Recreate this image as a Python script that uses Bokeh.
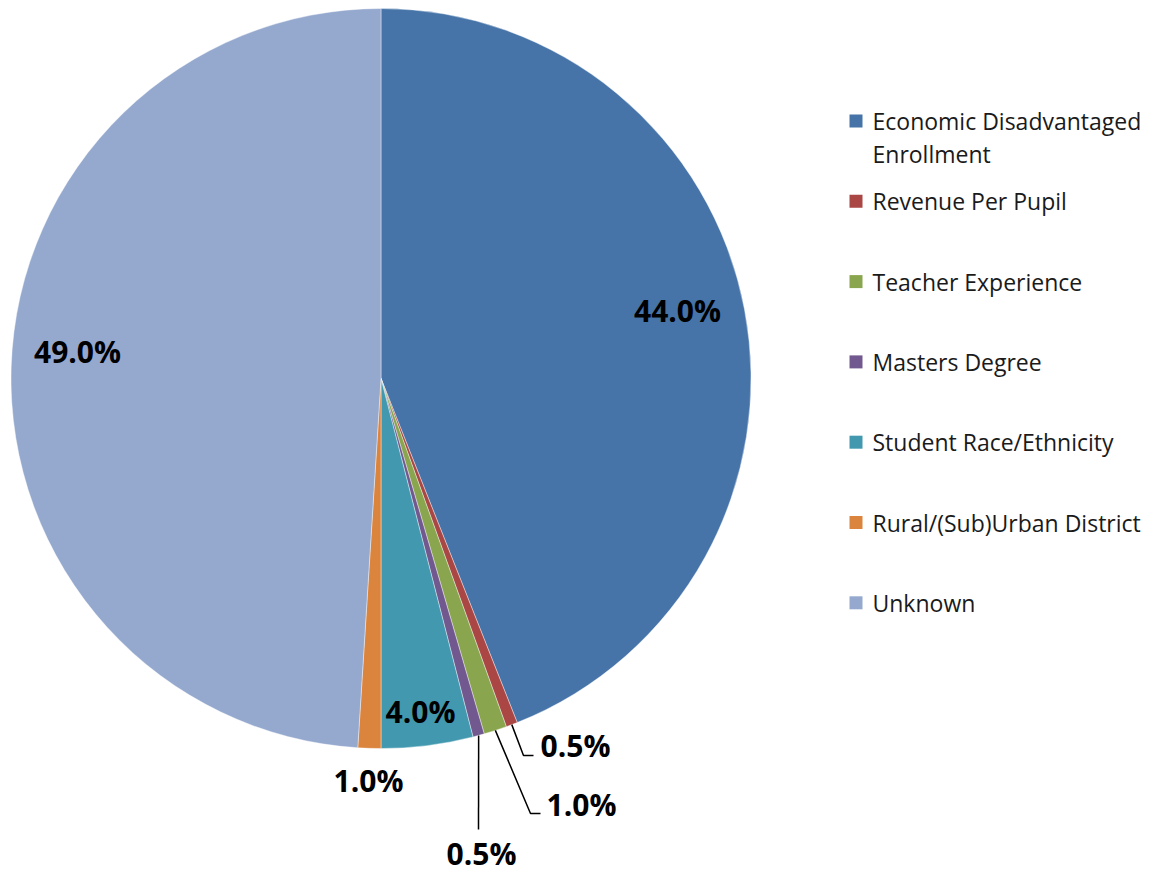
import math
from bokeh.plotting import figure
from bokeh.models import Range1d, ColumnDataSource
from bokeh.core.properties import value
from bokeh.embed import file_html
from bokeh.resources import INLINE

# ---- data ----
categories = ["Economic Disadvantaged\nEnrollment", "Revenue Per Pupil", "Teacher Experience",
              "Masters Degree", "Student Race/Ethnicity", "Rural/(Sub)Urban District", "Unknown"]
shares = [44.0, 0.5, 1.0, 0.5, 4.0, 1.0, 49.0]
colors = ["#4674A8", "#AA4643", "#89A54E", "#71588F", "#4198AF", "#DB843D", "#95A9CF"]

# ---- layout (page pixel coordinates; y is drawn as -py) ----
W, H = 1153, 875
CX, CY, R = 380.5, 378.0, 370.0
label_pos = [(677, 310), (575, 745), (581, 804), (481, 853), (420, 711), (368, 780), (77, 351)]
# elbow points for leader lines (None = no leader)
leader_elbow = [None, [(523, 755), (533, 755)], [(530, 813), (540, 813)], [(478, 829)], None, None, None]
LEG_SQ_X, LEG_TXT_X, LEG_Y0, LEG_DY, LEG_LINE = 855.5, 872, 120.5, 80.3, 33

p = figure(width=W, height=H, output_backend="svg", toolbar_location=None,
           x_range=Range1d(0, W), y_range=Range1d(-H, 0),
           min_border=0, outline_line_color=None)
p.axis.visible = False
p.grid.visible = False
p.background_fill_color = "white"
p.border_fill_color = "white"

total = sum(shares)
starts, ends, mids = [], [], []
cum = 0.0
for s in shares:
    a0 = math.pi / 2 - 2 * math.pi * cum / total
    cum += s
    a1 = math.pi / 2 - 2 * math.pi * cum / total
    starts.append(a0)
    ends.append(a1)
    mids.append((a0 + a1) / 2)

src = ColumnDataSource(dict(x=[CX] * len(shares), y=[-CY] * len(shares),
                            start=starts, end=ends, color=colors))
p.wedge(x="x", y="y", radius=R, start_angle="start", end_angle="end", direction="clock",
        fill_color="color", line_color="white", line_width=0.8, line_alpha=0.5, source=src)

# leader lines
for i, elbow in enumerate(leader_elbow):
    if elbow is None:
        continue
    sx = CX + R * math.cos(mids[i])
    sy = -CY + R * math.sin(mids[i])
    xs = [sx] + [e[0] for e in elbow]
    ys = [sy] + [-e[1] for e in elbow]
    p.line(xs, ys, line_color="black", line_width=1.5)

# data labels
labels = ["%.1f%%" % s for s in shares]
p.text(x=[lp[0] for lp in label_pos], y=[-lp[1] for lp in label_pos], text=labels,
       text_font=value("Open Sans"), text_font_style="bold", text_font_size="30px",
       text_align="center", text_baseline="middle", text_color="black")

# legend
sq_x, sq_y, tx, ty, tt = [], [], [], [], []
for i, c in enumerate(categories):
    yc = LEG_Y0 + LEG_DY * i
    sq_x.append(LEG_SQ_X)
    sq_y.append(-yc)
    for j, line in enumerate(c.split("\n")):
        tx.append(LEG_TXT_X)
        ty.append(-(yc + j * LEG_LINE))
        tt.append(line)
p.scatter(x=sq_x, y=sq_y, marker="square", size=13, fill_color=colors, line_color=None)
p.text(x=tx, y=ty, text=tt, text_font=value("Open Sans"), text_font_size="23px",
       text_align="left", text_baseline="middle", text_color="#1a1a1a")

open("out.html", "w").write(file_html(p, INLINE))
